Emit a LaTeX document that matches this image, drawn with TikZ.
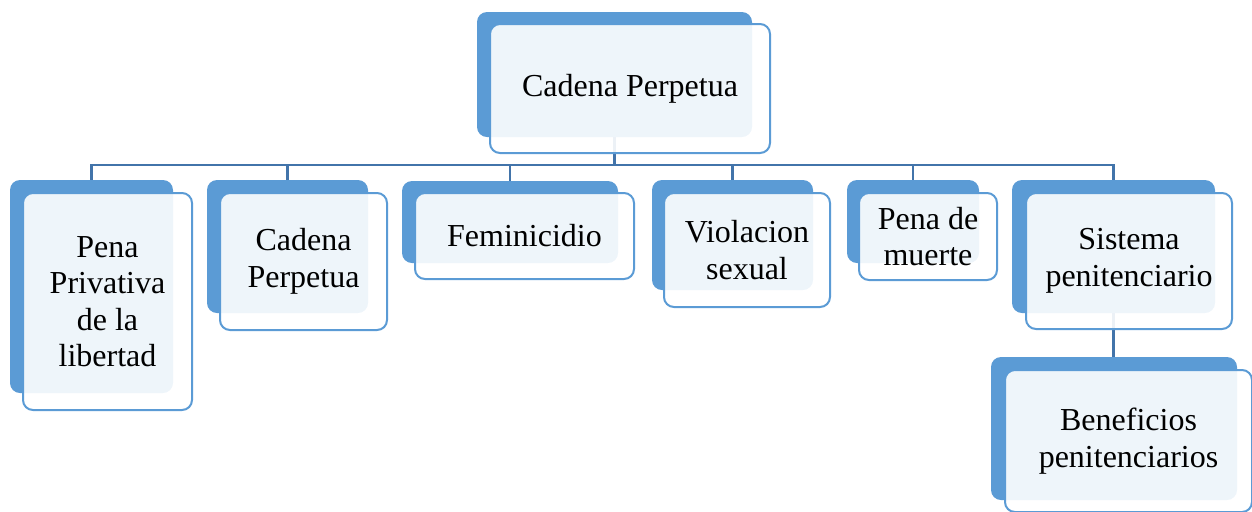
\documentclass[tikz,border=0pt]{standalone}
\usepackage{fontspec}
\setmainfont{Liberation Serif}
\usetikzlibrary{backgrounds}
\definecolor{boxblue}{RGB}{91,155,213}
\definecolor{lineblue}{RGB}{66,116,170}
\tikzset{
    backbox/.style={fill=boxblue, rounded corners=5pt, inner sep=0pt},
    frontbox/.style={draw=boxblue, line width=1pt, fill=white, fill opacity=0.9,
        text opacity=1, rounded corners=5pt, align=center,
        font=\fontsize{16}{18.25}\selectfont},
    link/.style={draw=lineblue, line width=1.4pt}
}
\begin{document}
\begin{tikzpicture}[x=0.5pt, y=-0.5pt]
    \useasboundingbox (0,0) rectangle (1252,511);

    % root
    \node[backbox, minimum width=137.5pt, minimum height=62.5pt] (top-b) at (614.5,74.5) {};
    \node[frontbox, minimum width=140pt, minimum height=64.5pt] (top) at (630,88.5) {Cadena Perpetua};

    % first row
    \node[backbox, minimum width=81.5pt, minimum height=106.5pt] (pena-b) at (91.5,286.5) {};
    \node[frontbox, minimum width=84.5pt, minimum height=108.5pt] (pena) at (107.5,301.5) {Pena\\Privativa\\de la\\libertad};

    \node[backbox, minimum width=80.5pt, minimum height=66.5pt] (cadena-b) at (287.5,246.5) {};
    \node[frontbox, minimum width=83.5pt, minimum height=68.5pt] (cadena) at (303.5,261.5) {Cadena\\Perpetua};

    \node[backbox, minimum width=108pt, minimum height=41pt] (femi-b) at (510,222) {};
    \node[frontbox, minimum width=109.5pt, minimum height=43pt] (femi) at (524.5,236) {Feminicidio};

    \node[backbox, minimum width=80.5pt, minimum height=55pt] (viol-b) at (732.5,235) {};
    \node[frontbox, minimum width=83pt, minimum height=57pt] (viol) at (747,250) {Violacion\\sexual};

    \node[backbox, minimum width=66pt, minimum height=41.5pt] (muerte-b) at (913,221.5) {};
    \node[frontbox, minimum width=69pt, minimum height=43.5pt] (muerte) at (928,236.5) {Pena de\\muerte};

    \node[backbox, minimum width=101.5pt, minimum height=66.5pt] (sist-b) at (1113.5,246.5) {};
    \node[frontbox, minimum width=103pt, minimum height=68pt] (sist) at (1129,261) {Sistema\\penitenciario};

    % below the last one
    \node[backbox, minimum width=123pt, minimum height=71.5pt] (benef-b) at (1114,428.5) {};
    \node[frontbox, minimum width=123.5pt, minimum height=71pt] (benef) at (1128.5,441) {Beneficios\\penitenciarios};

    \coordinate (bus) at (0,165);
    \begin{scope}[on background layer]
        \draw[link] (top-b.south) |- (bus -| pena-b.north) -- (pena-b.north);
        \draw[link] (top-b.south) |- (bus -| cadena-b.north) -- (cadena-b.north);
        \draw[link] (top-b.south) |- (bus -| femi-b.north) -- (femi-b.north);
        \draw[link] (top-b.south) |- (bus -| viol-b.north) -- (viol-b.north);
        \draw[link] (top-b.south) |- (bus -| muerte-b.north) -- (muerte-b.north);
        \draw[link] (top-b.south) |- (bus -| sist-b.north) -- (sist-b.north);
        \draw[link] (sist-b.south) -- (sist-b.south |- benef-b.north);
    \end{scope}
\end{tikzpicture}
\end{document}
